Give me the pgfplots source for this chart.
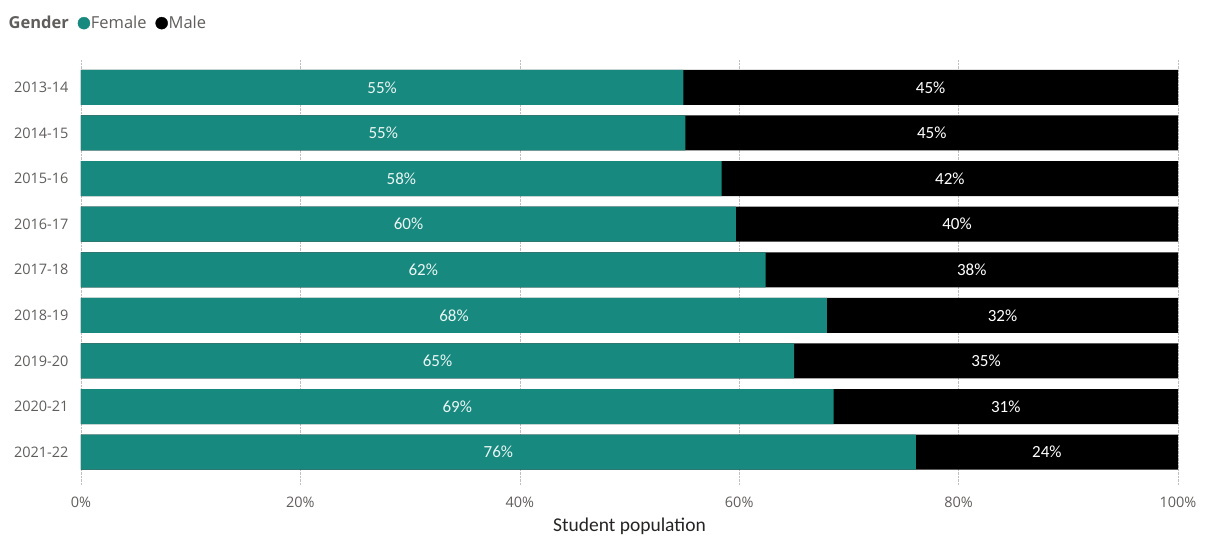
\documentclass[border=0pt]{standalone}
\usepackage{pgfplots}
\pgfplotsset{compat=1.18}
\usepackage{pgfplotstable}
\usepackage{fontspec}
\setmainfont{Open Sans}
\newfontfamily\carl{Carlito}
\definecolor{fem}{RGB}{23,137,126}
\definecolor{tickgray}{RGB}{96,94,92}
\definecolor{titlegray}{RGB}{37,36,35}
\pgfplotstableread{
y f m
0 54.9 45.1
1 55.1 44.9
2 58.4 41.6
3 59.7 40.3
4 62.4 37.6
5 68.0 32.0
6 65.0 35.0
7 68.6 31.4
8 76.1 23.9
}\data
\begin{document}
\begin{tikzpicture}
\path[use as bounding box] (-81pt,-51pt) rectangle (1125pt,485pt);
\begin{axis}[
  at={(0pt,0pt)}, anchor=south west,
  scale only axis, width=1097pt, height=425pt,
  xmin=0, xmax=100, ymin=-0.6, ymax=8.72, y dir=reverse,
  ytick={0,...,8},
  yticklabels={2013-14,2014-15,2015-16,2016-17,2017-18,2018-19,2019-20,2020-21,2021-22},
  xtick={0,20,...,100},
  /pgf/number format/assume math mode=true,
  xticklabel={\pgfmathprintnumber{\tick}\%},
  axis line style={draw=none},
  major tick length=0pt,
  xmajorgrids, grid style={densely dotted, black!25},
  ticklabel style={font=\fontsize{14.5}{16}\selectfont, text=tickgray},
  yticklabel style={xshift=-9pt},
  xticklabel style={yshift=-8pt},
  xlabel={Student population},
  xlabel style={font=\carl\fontsize{19.5}{21}\selectfont, text=titlegray, yshift=-4pt},
  legend style={at={(-0.067,1.106)}, anchor=north west, draw=none, fill=none,
    font=\fontsize{16.5}{18}\selectfont, text=tickgray, inner sep=0pt,
    nodes={inner sep=1pt},
    /tikz/every odd column/.append style={column sep=0pt},
    /tikz/every even column/.append style={column sep=8pt}},
  legend columns=-1,
  legend cell align=left,
]
\addlegendimage{empty legend}
\addlegendentry{\textbf{Gender}}
\addlegendimage{only marks, mark=*, mark size=6pt, color=fem}
\addlegendentry{Female}
\addlegendimage{only marks, mark=*, mark size=6pt, color=black}
\addlegendentry{Male}

\addplot[xbar, bar shift=0pt, bar width=35pt, fill=black, draw=none, forget plot]
  table[x expr=\thisrow{f}+\thisrow{m}, y=y]{\data};
\addplot[xbar, bar shift=0pt, bar width=35pt, fill=fem, draw=none, forget plot]
  table[x=f, y=y]{\data};

\addplot[draw=none, no markers, forget plot,
  point meta=\thisrow{f},
  nodes near coords={\pgfmathprintnumber[fixed,precision=0]{\pgfplotspointmeta}\%},
  every node near coord/.append style={anchor=center, text=white!92!fem, font=\carl\fontsize{17}{19}\selectfont}]
  table[x expr=\thisrow{f}/2, y=y]{\data};
\addplot[draw=none, no markers, forget plot,
  point meta=\thisrow{m},
  nodes near coords={\pgfmathprintnumber[fixed,precision=0]{\pgfplotspointmeta}\%},
  every node near coord/.append style={anchor=center, text=white, font=\carl\fontsize{17}{19}\selectfont}]
  table[x expr=\thisrow{f}+\thisrow{m}/2, y=y]{\data};
\end{axis}
\end{tikzpicture}
\end{document}
